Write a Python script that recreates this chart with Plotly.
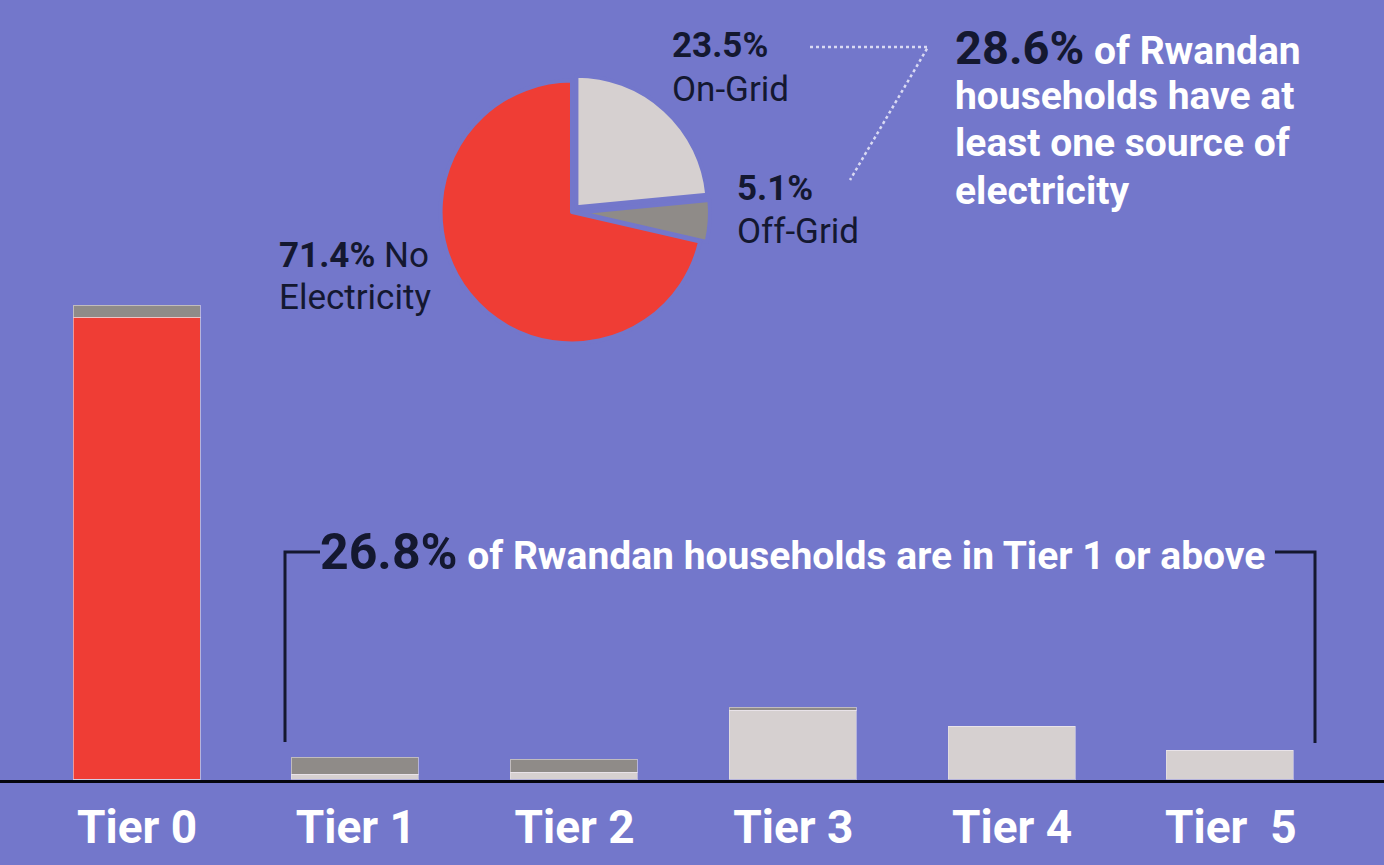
import plotly.graph_objects as go

W, H = 1384, 865

BG = "#7377cb"
RED = "#ef3d35"
LIGHT = "#d6d0d0"
GRAY = "#8f8b88"
INK = "#141830"
FONT = "Roboto, Liberation Sans, sans-serif"

# bar chart: share of households per tier (%), split by source
tiers = ["Tier 0", "Tier 1", "Tier 2", "Tier 3", "Tier 4", "Tier 5"]
tier_labels = ["Tier 0", "Tier 1", "Tier 2", "Tier 3", "Tier 4", "Tier  5"]
on_grid = [0, 0.8, 1.1, 10.7, 8.2, 4.5]
no_electricity = [71.4, 0, 0, 0, 0, 0]
off_grid = [1.8, 2.6, 2.0, 0.4, 0, 0]

# pie: electricity access
pie_labels = ["On-Grid", "Off-Grid", "No Electricity"]
pie_values = [23.5, 5.1, 71.4]

tier1_above = "26.8%"
any_source = "28.6%"


def px(x):
    return x / W


def py(y):
    return 1 - y / H


fig = go.Figure()
for name, vals, col in [
    ("On-Grid", on_grid, LIGHT),
    ("No Electricity", no_electricity, RED),
    ("Off-Grid", off_grid, GRAY),
]:
    fig.add_bar(
        x=tiers,
        y=vals,
        name=name,
        width=0.58,
        marker={"color": col, "line": {"color": "rgba(235,230,235,0.55)", "width": 1.5}},
        hoverinfo="x+y+name",
    )

fig.add_pie(
    labels=pie_labels,
    values=pie_values,
    sort=False,
    direction="clockwise",
    rotation=0,
    marker={"colors": [LIGHT, GRAY, RED], "line": {"color": BG, "width": 4}},
    pull=[0.05, 0.05, 0],
    textinfo="none",
    domain={"x": [px(572 - 138), px(572 + 138)], "y": [py(212 + 138), py(212 - 138)]},
    showlegend=False,
)

fig.update_layout(
    width=W,
    height=H,
    margin={"l": 0, "r": 0, "t": 0, "b": 0},
    paper_bgcolor=BG,
    plot_bgcolor=BG,
    barmode="stack",
    bargap=0,
    showlegend=False,
    font={"family": FONT, "color": INK},
)
fig.update_xaxes(
    domain=[0, 1],
    range=[-0.627, 5.70],
    showgrid=False,
    showline=True,
    linecolor="#05060f",
    linewidth=3,
    ticks="",
    tickvals=tiers,
    ticktext=[f"<b>{t}</b>" for t in tier_labels],
    tickfont={"family": FONT, "size": 46, "color": "white"},
    ticklabelstandoff=5,
    automargin=False,
)
fig.update_yaxes(
    domain=[py(780), 1],
    range=[0, 780 / 6.47],
    visible=False,
    fixedrange=True,
)

anns = [
    (670, 46, "<b>23.5%</b>", 35),
    (670, 89, "On-Grid", 35),
    (735, 189, "<b>5.1%</b>", 35),
    (735, 232, "Off-Grid", 35),
    (277, 255, "<b>71.4%</b> No", 35),
    (277, 297, "Electricity", 35),
]
for x, y, t, s in anns:
    fig.add_annotation(
        x=px(x), y=py(y), xref="paper", yref="paper", text=t, showarrow=False,
        xanchor="left", yanchor="middle", font={"size": s, "color": INK, "family": FONT},
    )

right_lines = [
    f"<b><span style='color:{INK};font-size:47px'>{any_source}</span> of Rwandan</b>",
    "<b>households have at</b>",
    "<b>least one source of</b>",
    "<b>electricity</b>",
]
for i, t in enumerate(right_lines):
    fig.add_annotation(
        x=px(953), y=py(48 + i * 47.5), xref="paper", yref="paper", text=t, showarrow=False,
        xanchor="left", yanchor="middle", font={"size": 39, "color": "white", "family": FONT},
    )

fig.add_annotation(
    x=px(792), y=py(552), xref="paper", yref="paper",
    text=f"<b><span style='color:{INK};font-size:50px'>{tier1_above}</span> of Rwandan households are in Tier 1 or above</b>",
    showarrow=False, xanchor="center", yanchor="middle",
    font={"size": 39, "color": "white", "family": FONT},
)

# bracket
line_style = {"color": INK, "width": 3}
fig.add_shape(type="path", xref="paper", yref="paper",
              path=f"M {px(285)} {py(742)} L {px(285)} {py(552)} L {px(320)} {py(552)}", line=line_style)
fig.add_shape(type="path", xref="paper", yref="paper",
              path=f"M {px(1275)} {py(552)} L {px(1315)} {py(552)} L {px(1315)} {py(743)}", line=line_style)

# dotted leader
dot = {"color": "rgba(235,235,250,0.85)", "width": 2.5, "dash": "dot"}
fig.add_shape(type="path", xref="paper", yref="paper",
              path=f"M {px(810)} {py(47)} L {px(928)} {py(47)} L {px(850)} {py(180)}", line=dot)

fig.write_html(
    "out.html",
    config={"displayModeBar": False},
    post_script="document.body.style.margin='0';document.body.style.overflow='hidden';",
)
